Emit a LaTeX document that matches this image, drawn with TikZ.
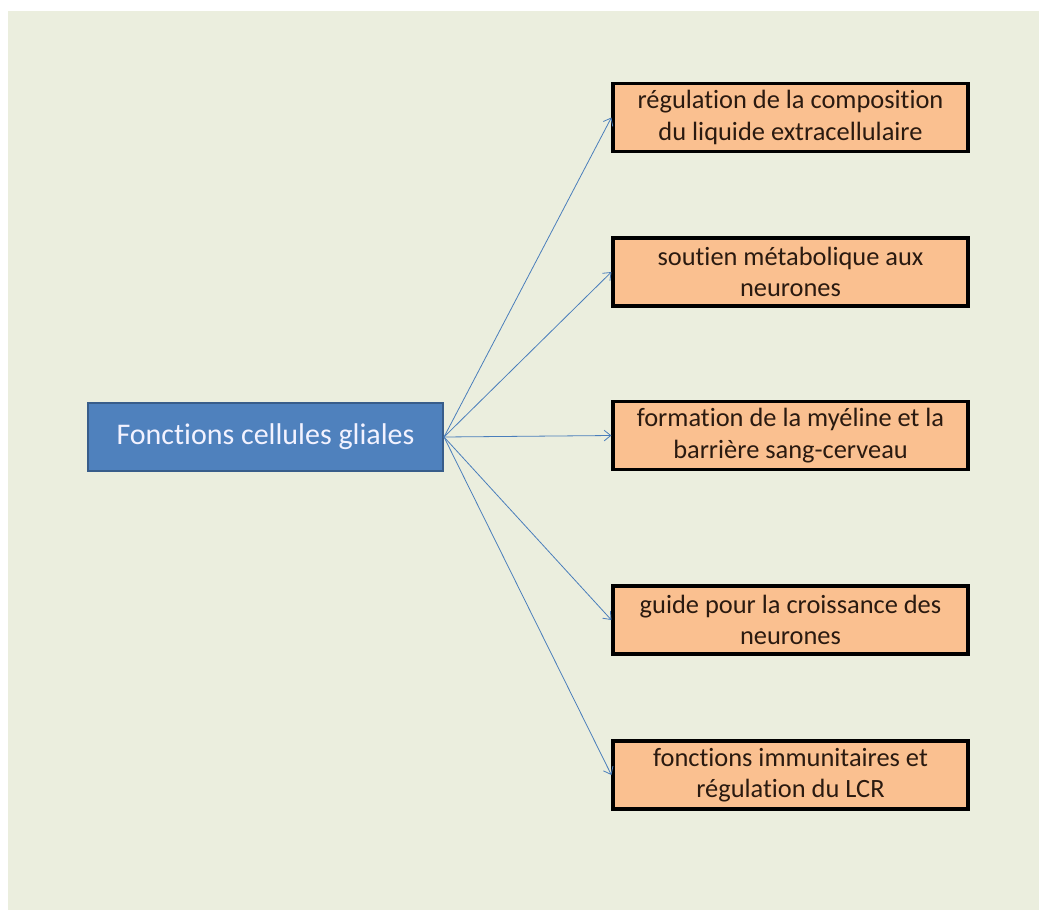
\documentclass[tikz,border=0pt]{standalone}
\usepackage{fontspec}
\setmainfont{Carlito}[Ligatures={NoCommon}]
\usetikzlibrary{arrows.meta}
\definecolor{bgc}{HTML}{EBEEDE}
\definecolor{bluefill}{HTML}{4F81BD}
\definecolor{blueedge}{HTML}{385D8A}
\definecolor{orfill}{HTML}{FAC090}
\definecolor{arrc}{HTML}{4A7EBB}
\definecolor{txt}{HTML}{2A1A10}
\tikzset{
  mainbox/.style={draw=blueedge, line width=1.5pt, fill=bluefill, text=white!95!blue, minimum width=355*0.75pt, minimum height=68*0.75pt, inner sep=0pt, font=\fontsize{22.5}{26}\selectfont},
  funcbox/.style={draw=black, line width=2.4pt, fill=orfill, text=txt, minimum width=355*0.75pt, minimum height=68*0.75pt, inner sep=0pt, align=center, font=\fontsize{19.8}{23.5}\selectfont},
  conn/.style={draw=arrc, line width=0.6pt, -{Straight Barb[length=5pt,width=8pt]}}
}
\begin{document}
\begin{tikzpicture}[x=0.75pt,y=-0.75pt]
\useasboundingbox (0,0) rectangle (1039,910);
\fill[white] (0,0) rectangle (1039,910);
\fill[bgc] (8,11) rectangle (1039,910);
\node[mainbox] (m) at (265.5,437) {Fonctions cellules gliales};
\node[funcbox] (a) at (790.5,117.5) {régulation de la composition\\du liquide extracellulaire};
\node[funcbox] (b) at (790.5,272) {soutien métabolique aux\\neurones};
\node[funcbox] (c) at (790.5,435.5) {formation de la myéline et la\\barrière sang-cerveau};
\node[funcbox] (d) at (790.5,620) {guide pour la croissance des\\neurones};
\node[funcbox] (e) at (790.5,775) {fonctions immunitaires et\\régulation du LCR};
\foreach \t in {a,b,c,d,e}{
  \draw[conn] (m.east) -- (\t.west);
}
\end{tikzpicture}
\end{document}
